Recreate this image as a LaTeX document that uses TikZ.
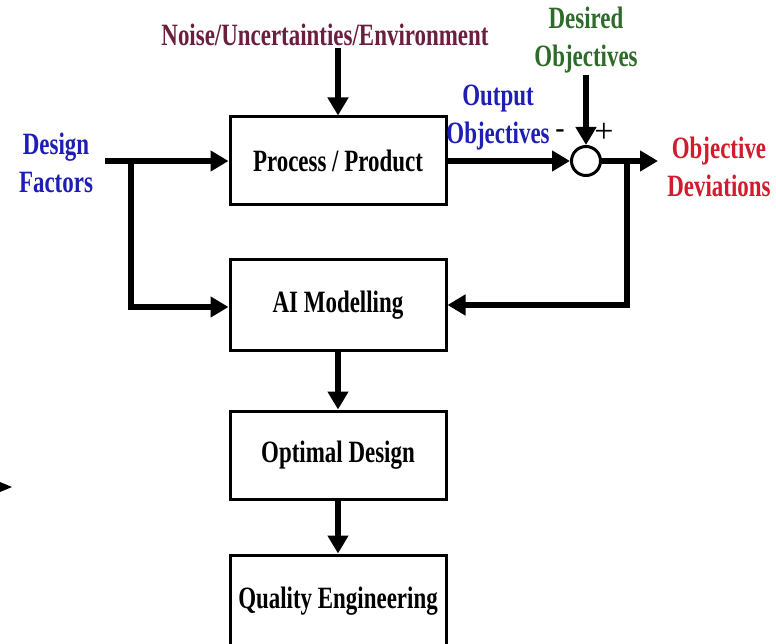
\documentclass[tikz,border=0pt]{standalone}
\usepackage{fontspec}
\setmainfont{Liberation Serif}[FakeStretch=0.74]
\newfontfamily\plainserif{Liberation Serif}
\usetikzlibrary{arrows.meta}
\definecolor{noisec}{RGB}{107,31,63}
\definecolor{desc}{RGB}{46,107,42}
\definecolor{bluec}{RGB}{30,30,180}
\definecolor{redc}{RGB}{208,28,44}
\tikzset{
  boxnode/.style={draw, line width=3pt, minimum width=216pt, minimum height=88pt, inner sep=0pt,
    font=\fontsize{31}{38}\selectfont\bfseries},
  lab/.style={align=center, inner sep=2pt, font=\fontsize{31}{38}\selectfont\bfseries},
  signlab/.style={inner sep=0pt, font=\plainserif\fontsize{34}{36}\selectfont},
  arr/.style={line width=6pt, -{Triangle[length=18pt,width=20pt]}},
  sumnode/.style={circle, draw, line width=3pt, minimum size=29pt, inner sep=0pt}
}
\begin{document}
\begin{tikzpicture}[x=1pt,y=-1pt]
\clip (0,0) rectangle (776,644);
\fill[white] (0,0) rectangle (776,644);
% boxes
\node[boxnode] (proc) at (338,161) {Process / Product};
\node[boxnode, minimum height=90pt] (ai) at (338,305) {AI Modelling};
\node[boxnode] (opt) at (338,455) {Optimal Design};
\node[boxnode, minimum height=92pt] (qual) at (338,601) {Quality Engineering};
\node[sumnode] (sum) at (586,161) {};
% labels
\node[lab, text=noisec] (noise) at (325,35) {Noise/Uncertainties/Environment};
\node[lab, text=desc] (des) at (586,40) {Desired\\Objectives};
\node[lab, text=bluec] (outo) at (498,118) {Output\\Objectives};
\node[lab, text=redc] (dev) at (719,167) {Objective\\Deviations};
\node[lab, text=bluec, inner sep=6pt] (df) at (56,163) {Design\\Factors};
\node[signlab, font=\plainserif\bfseries\fontsize{28}{30}\selectfont] (minus) at (560,134) {-};
\node[signlab] (plus) at (604,133) {+};
% coordinates
\coordinate (dfs) at (105,161);
\coordinate (br) at (131,161);
\coordinate (fb) at (627,161);
\coordinate (outend) at (658,161);
% connectors
\draw[arr] (dfs) -- (proc.west);
\draw[arr] (br) |- ([yshift=-2pt]ai.west);
\draw[arr] (noise.south -| proc.north) -- (proc.north);
\draw[arr] (des.south) -- (sum.north);
\draw[arr] (proc.east) -- (sum.west);
\draw[arr] (sum.east) -- (outend);
\draw[arr] (fb) |- (ai.east);
\draw[arr] (ai.south) -- (opt.north);
\draw[arr] (opt.south) -- (qual.north);
% stray arrowhead fragment at left edge
\fill (0,482) -- (12,487) -- (0,492) -- cycle;
\end{tikzpicture}
\end{document}
